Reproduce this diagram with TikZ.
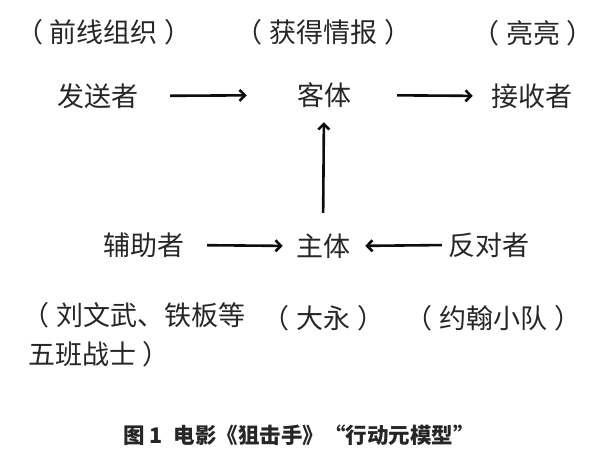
\documentclass[tikz,border=0pt]{standalone}
\usepackage{fontspec}
\setmainfont{Noto Sans CJK SC}
\usepackage{tikz}
\usetikzlibrary{arrows.meta}
\newcommand\openp{（\kern0.25em}
\newcommand\closep{\kern0.25em）}

\begin{document}
\begin{tikzpicture}[>={Straight Barb[length=5.5pt,width=11pt]}, x=1pt, y=-1pt,
    role/.style={font=\fontsize{27}{39}\selectfont, text=black!85, inner sep=0pt,
      text height=23.8pt, text depth=3.2pt},
    note/.style={font=\fontsize{27}{39}\selectfont, text=black!85, inner sep=0pt, align=left},
    link/.style={->, line width=2.6pt, black!95}]
  \useasboundingbox (0,0) rectangle (600,469);
  \node[role] (sender)   at (98,96)   {发送者};
  \node[role] (object)   at (324,95)  {客体};
  \node[role] (receiver) at (532,96)  {接收者};
  \node[role] (helper)   at (144,245) {辅助者};
  \node[role] (subject)  at (323,246) {主体};
  \node[role] (opponent) at (489,245) {反对者};
  \node[role] (senderN)   at (104,32)   {\openp 前线组织\closep};
  \node[role] (objectN)   at (323.5,32) {\openp 获得情报\closep};
  \node[role] (receiverN) at (533,33)   {\openp 亮亮\closep};
  \node[note, anchor=base west] (helperN) at (28,364) {\kern-0.2em\openp 刘文武、铁板等\\五班战士\closep};
  \node[role] (subjectN)  at (323.5,318) {\openp 大永\closep};
  \node[role] (opponentN) at (493.5,318) {\openp 约翰小队\closep};
  \draw[link, shorten <=31.5pt, shorten >=50pt] (sender.east) -- (object.west);
  \draw[link, shorten <=46pt, shorten >=18.5pt] (object.east) -- (receiver.west);
  \draw[link, shorten <=22.5pt, shorten >=13pt] (helper.east) -- (subject.west);
  \draw[link, shorten <=6.5pt, shorten >=15pt] (opponent.west) -- (subject.east);
  \draw[link, shorten <=19.5pt, shorten >=13.5pt] (subject.north) -- (object.south);
  \node[font=\fontsize{21.5}{26}\selectfont\bfseries, text=black!85, inner sep=0pt] (caption)
    at (299,435) {图 1\enspace 电影《狙击手》“行动元模型”};
\end{tikzpicture}
\end{document}
